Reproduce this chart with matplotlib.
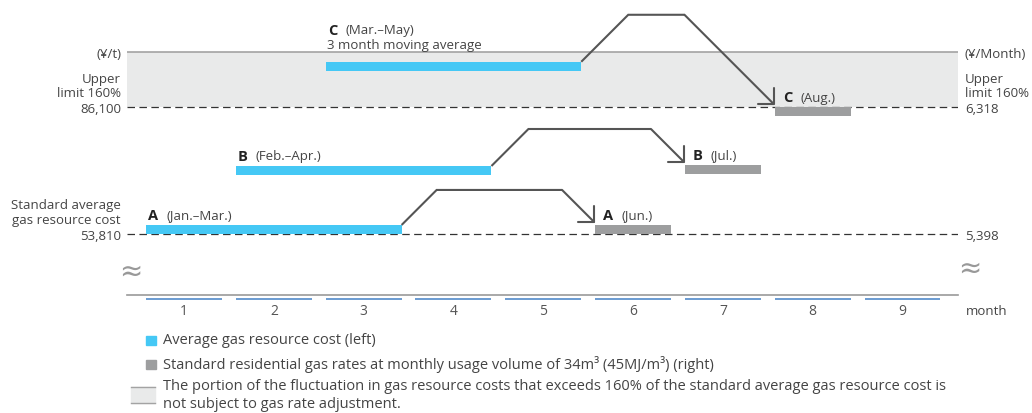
import matplotlib.pyplot as plt
from matplotlib.patches import Rectangle

plt.rcParams['font.family'] = ['Open Sans', 'DejaVu Sans']
plt.rcParams['lines.scale_dashes'] = False

# months on the axis
months = [1, 2, 3, 4, 5, 6, 7, 8, 9]

# average gas resource cost (left axis, yen per tonne), 3 month windows
periods = ['A', 'B', 'C']
avg_spans = ['(Jan.–Mar.)', '(Feb.–Apr.)', '(Mar.–May)']
avg_first = [1, 2, 3]
avg_last = [3, 4, 5]
avg_cost = [53810, 68800, 95300]

# standard residential gas rate (right axis, yen per month)
rate_month = [6, 7, 8]
rate_names = ['(Jun.)', '(Jul.)', '(Aug.)']
rate_value = [5398, 5833, 6318]
rate_capped = [False, False, True]

# reference levels
base_cost, cap_cost = 53810, 86100
base_rate, cap_rate = 5398, 6318
shade_top = 100000

W, H = 1032, 414
TXT = '#444444'
BLUE = '#45c8f5'
GRAY = '#9d9e9f'
LINE = '#555555'
FS = 9.5
LFS = 10.5


def to_rate(v):
    return base_rate + (v - base_cost) * (cap_rate - base_rate) / (cap_cost - base_cost)


fig = plt.figure(figsize=(W / 100, H / 100), dpi=100)
ax = fig.add_axes([127 / W, 1 - 296 / H, (958 - 127) / W, 296 / H])
ax.set_xlim(0.365, 9.618)
ax.set_ylim(38300, 113560)
ax2 = ax.twinx()
ax2.set_ylim(to_rate(38300), to_rate(113560))

for a in (ax, ax2):
    for s in a.spines.values():
        s.set_visible(False)
ax.spines['bottom'].set_visible(True)
ax.spines['bottom'].set_color('#999999')
ax.spines['bottom'].set_linewidth(1.2)

# region above the 160% cap
ax.axhspan(cap_cost, shade_top, color='#e9eaea', lw=0, zorder=0)
ax.axhline(shade_top, color='#a3a3a3', lw=1.2, zorder=1)
for lvl in (base_cost, cap_cost):
    ax.axhline(lvl, color='#333333', lw=0.9, dashes=(5.4, 3.2), zorder=1)

half = 0.423
bar_h = 2300
rate_h = to_rate(base_cost + bar_h) - base_rate

# blue bars: average cost over each window
ax.barh(avg_cost, [l - f + 2 * half for f, l in zip(avg_first, avg_last)],
        height=bar_h, left=[f - half for f in avg_first], align='edge',
        color=BLUE, zorder=3)

# grey bars: resulting monthly rate, capped one hangs from the cap line
ax2.barh(rate_value, 2 * half,
         height=[-rate_h if c else rate_h for c in rate_capped],
         left=[m - half for m in rate_month], align='edge',
         color=GRAY, zorder=3)

# month ticks
for m in months:
    ax.plot([m - half, m + half], [-0.014, -0.014], transform=ax.get_xaxis_transform(),
            clip_on=False, color='#6a9bd1', lw=1.4, solid_capstyle='butt')
ax.set_xticks(months)
ax.set_xticklabels([str(m) for m in months], fontsize=FS + 0.5, color='#555555')
ax.tick_params(axis='x', length=0, pad=6)
ax.annotate('month', xy=(1, 0), xycoords='axes fraction', xytext=(8, -16),
            textcoords='offset pixels', ha='left', va='center', fontsize=FS, color=TXT)

# y labels on both sides
ax.set_yticks([base_cost, cap_cost, shade_top])
ax.set_yticklabels(['53,810', '86,100', '(¥/t)'], fontsize=FS, color=TXT)
ax.tick_params(axis='y', length=0, pad=4)
ax2.set_yticks([base_rate, cap_rate, to_rate(shade_top)])
ax2.set_yticklabels(['5,398', '6,318', '(¥/Month)'], fontsize=FS, color=TXT)
ax2.tick_params(axis='y', length=0, pad=5)

ax.annotate('Upper\nlimit 160%', xy=(0, cap_cost), xycoords=ax.get_yaxis_transform(),
            xytext=(-6, 8), textcoords='offset pixels', ha='right', va='bottom',
            fontsize=FS, color=TXT, linespacing=1.15)
ax.annotate('Standard average\ngas resource cost', xy=(0, base_cost),
            xycoords=ax.get_yaxis_transform(), xytext=(-6, 8), textcoords='offset pixels',
            ha='right', va='bottom', fontsize=FS, color=TXT, linespacing=1.15)
ax.annotate('Upper\nlimit 160%', xy=(1, cap_cost), xycoords=ax.get_yaxis_transform(),
            xytext=(7, 8), textcoords='offset pixels', ha='left', va='bottom',
            fontsize=FS, color=TXT, linespacing=1.15)

# axis break marks
ax.annotate('≈', xy=(0, 0), xycoords='axes fraction', xytext=(4, 23),
            textcoords='offset pixels', ha='center', va='center', fontsize=20,
            color='#999999', family=['Noto Sans', 'DejaVu Sans'])
ax.annotate('≈', xy=(1, 0), xycoords='axes fraction', xytext=(12, 26),
            textcoords='offset pixels', ha='center', va='center', fontsize=20,
            color='#999999', family=['Noto Sans', 'DejaVu Sans'])

# bar labels
for i, p in enumerate(periods):
    xy = (avg_first[i] - half, avg_cost[i] + bar_h)
    dy = 32 if p == 'C' else 10
    ax.annotate(p, xy=xy, xytext=(2, dy), textcoords='offset pixels', va='center',
                fontsize=FS + 1, fontweight='bold', color='#222222')
    ax.annotate(avg_spans[i], xy=xy, xytext=(20, dy), textcoords='offset pixels',
                va='center', fontsize=FS, color=TXT)
    if p == 'C':
        ax.annotate('3 month moving average', xy=xy, xytext=(1, 17),
                    textcoords='offset pixels', va='center', fontsize=FS, color=TXT)
    top = rate_value[i] if rate_capped[i] else rate_value[i] + rate_h
    gxy = (rate_month[i] - half, top)
    ax2.annotate(p, xy=gxy, xytext=(8, 10), textcoords='offset pixels', va='center',
                 fontsize=FS + 1, fontweight='bold', color='#222222')
    ax2.annotate(rate_names[i], xy=gxy, xytext=(26, 10), textcoords='offset pixels',
                 va='center', fontsize=FS, color=TXT)

# arrows from each averaging window to the month it sets
rise = [35, 37, 47]
inv = ax.transData.inverted()
for i in range(3):
    sx, sy = ax.transData.transform((avg_last[i] + half, avg_cost[i] + bar_h))
    top = rate_value[i] if rate_capped[i] else rate_value[i] + rate_h
    tx, ty = ax2.transData.transform((rate_month[i] - half, top))
    ty += 2
    peak = sy + rise[i]
    pts = [(sx, sy), (sx + rise[i], peak), (tx - (peak - ty), peak)]
    d = inv.transform(pts)
    ax.plot(d[:, 0], d[:, 1], color=LINE, lw=1.5, solid_joinstyle='miter',
            solid_capstyle='butt', zorder=4, clip_on=False)
    ax.annotate('', xy=inv.transform((tx, ty)), xytext=d[-1],
                arrowprops=dict(arrowstyle='->,head_length=0.4,head_width=0.4',
                                color=LINE, lw=1.5, shrinkA=0, shrinkB=0,
                                mutation_scale=20), zorder=4)


# legend
def fx(x):
    return x / W


def fy(y):
    return 1 - y / H


fig.patches.append(Rectangle((fx(146), fy(346)), 10 / W, 9 / H, color=BLUE,
                             transform=fig.transFigure, figure=fig))
fig.text(fx(163), fy(341), 'Average gas resource cost (left)', va='center',
         fontsize=LFS, color=TXT)
fig.patches.append(Rectangle((fx(146), fy(370)), 10 / W, 9 / H, color=GRAY,
                             transform=fig.transFigure, figure=fig))
fig.text(fx(163), fy(365),
         'Standard residential gas rates at monthly usage volume of 34m³ (45MJ/m³) (right)',
         va='center', fontsize=LFS, color=TXT)
fig.patches.append(Rectangle((fx(131), fy(404)), 24 / W, 16 / H, color='#e9eaea',
                             transform=fig.transFigure, figure=fig))
for yy in (388, 404):
    fig.add_artist(plt.Line2D([fx(131), fx(155)], [fy(yy), fy(yy)], color='#a3a3a3',
                              lw=1.0, transform=fig.transFigure))
fig.text(fx(163), fy(387),
         'The portion of the fluctuation in gas resource costs that exceeds 160% of the '
         'standard average gas resource cost is', va='center', fontsize=LFS, color=TXT)
fig.text(fx(163), fy(405), 'not subject to gas rate adjustment.', va='center',
         fontsize=LFS, color=TXT)

fig.savefig('out.png', dpi=100)
